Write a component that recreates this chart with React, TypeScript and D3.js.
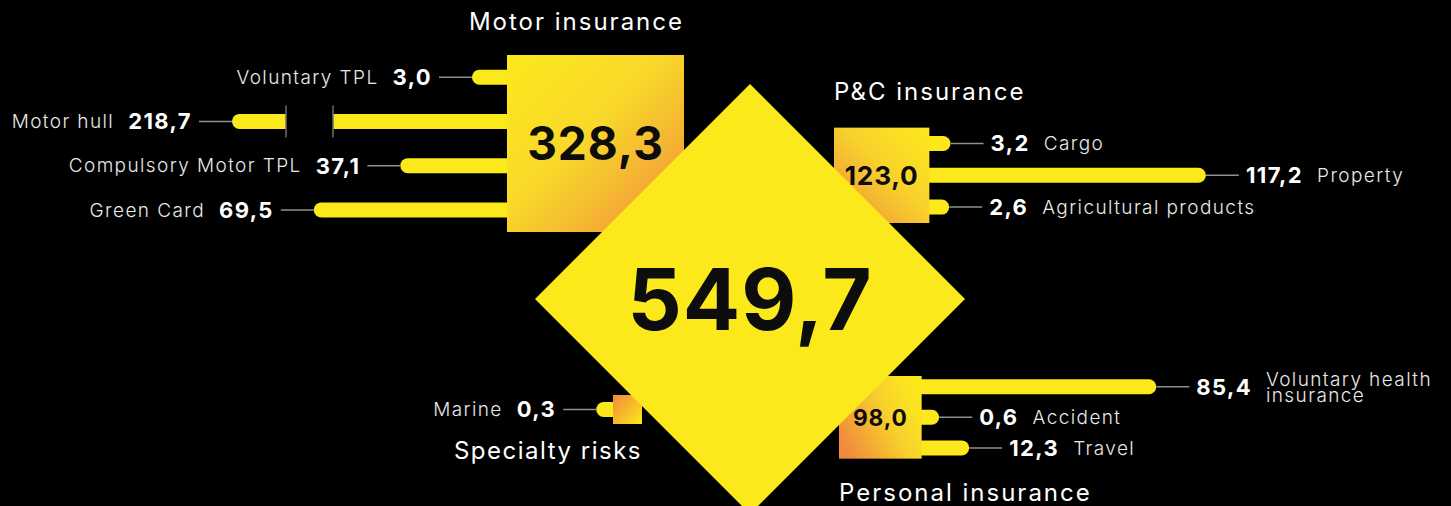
import React, { useEffect, useRef } from "react";
import * as d3 from "d3";

const W = 1451;
const H = 506;

// ---- data ----
const grandTotal = 549.7;
const groupNames = ["Motor insurance", "P&C insurance", "Specialty risks", "Personal insurance"];
const groupTotals = [328.3, 123.0, 0.3, 98.0];

const motorCategories = ["Voluntary TPL", "Motor hull", "Compulsory Motor TPL", "Green Card"];
const motorValues = [3.0, 218.7, 37.1, 69.5];

const pcCategories = ["Cargo", "Property", "Agricultural products"];
const pcValues = [3.2, 117.2, 2.6];

const specialtyCategories = ["Marine"];
const specialtyValues = [0.3];

const personalCategories = ["Voluntary health\ninsurance", "Accident", "Travel"];
const personalValues = [85.4, 0.6, 12.3];

// ---- style ----
const YELLOW = "#FCE91C";
const ORANGE = "#F08A3C";
const FONT = "Inter, 'Open Sans', 'DejaVu Sans', sans-serif";

const locale = d3.formatLocale({ decimal: ",", thousands: " ", grouping: [3], currency: ["", ""] });
const fmt = locale.format(".1f");

export default function App() {
  const ref = useRef<SVGSVGElement>(null);

  useEffect(() => {
    const svg = d3.select(ref.current);
    svg.selectAll("*").remove();

    svg.append("rect").attr("width", W).attr("height", H).attr("fill", "#000");

    const defs = svg.append("defs");
    const grad = (id: string, x1: number, y1: number, x2: number, y2: number, stops: [number, string][]) => {
      const g = defs.append("linearGradient").attr("id", id)
        .attr("x1", x1).attr("y1", y1).attr("x2", x2).attr("y2", y2);
      stops.forEach(([o, c]) => g.append("stop").attr("offset", o).attr("stop-color", c));
    };
    grad("gMotor", 0, 0, 1, 1, [[0, YELLOW], [0.45, "#F9D82A"], [1, ORANGE]]);
    grad("gPC", 0, 1, 1, 0, [[0, ORANGE], [0.55, "#F8D22C"], [1, YELLOW]]);
    grad("gSpec", 0, 0, 1, 1, [[0, ORANGE], [1, YELLOW]]);
    grad("gPers", 0, 0.75, 1, 0.25, [[0, ORANGE], [0.6, "#F8D22C"], [1, YELLOW]]);

    // diamond layout
    const cx = 750, cy = 299, r = 215;

    // box size scale
    const sizeScale = d3.scalePow().exponent(0.63).domain([0, d3.max(groupTotals)!]).range([0, 177]);
    const boxSize = (v: number) => Math.max(29, sizeScale(v));

    const motorLen = d3.scalePow().exponent(1.22).domain([0, 100]).range([31.5, 283.5]);
    const pcLen = d3.scaleLinear().domain([0, 100]).range([14, 238]);
    const persLen = d3.scaleLinear().domain([0, 100]).range([16, 272]);

    type Group = {
      name: string; total: number; cats: string[]; vals: number[];
      side: "left" | "right"; len: (v: number) => number; gradId: string;
      corner: [number, number]; anchorX: "left" | "right"; anchorY: "top" | "bottom";
      titleAnchor: "start" | "end"; titleDy: number; pad: number;
    };

    const groups: Group[] = [
      { name: groupNames[0], total: groupTotals[0], cats: motorCategories, vals: motorValues, side: "left", len: motorLen, gradId: "gMotor",
        corner: [cx - 66, cy - 67], anchorX: "right", anchorY: "bottom", titleAnchor: "end", titleDy: -25, pad: 0.5 },
      { name: groupNames[1], total: groupTotals[1], cats: pcCategories, vals: pcValues, side: "right", len: pcLen, gradId: "gPC",
        corner: [cx + 84, cy - 76], anchorX: "left", anchorY: "bottom", titleAnchor: "start", titleDy: -28, pad: 0.5 },
      { name: groupNames[2], total: groupTotals[2], cats: specialtyCategories, vals: specialtyValues, side: "left", len: persLen, gradId: "gSpec",
        corner: [cx - 108, cy + 96], anchorX: "right", anchorY: "top", titleAnchor: "end", titleDy: 35, pad: 0.5 },
      { name: groupNames[3], total: groupTotals[3], cats: personalCategories, vals: personalValues, side: "right", len: persLen, gradId: "gPers",
        corner: [cx + 89, cy + 77], anchorX: "left", anchorY: "top", titleAnchor: "start", titleDy: 42, pad: 0.35 },
    ];

    const BREAK_AT = 320;   // bars longer than this are drawn broken
    const BROKEN_LEN = 275;
    const BAR_H = 15;
    const LEADER = 33;

    const barLayer = svg.append("g");
    const boxLayer = svg.append("g");
    const diamondLayer = svg.append("g");
    const textLayer = svg.append("g");

    groups.forEach((g) => {
      const s = boxSize(g.total);
      const bx = g.anchorX === "right" ? g.corner[0] - s : g.corner[0];
      const by = g.anchorY === "bottom" ? g.corner[1] - s : g.corner[1];
      const dir = g.side === "left" ? -1 : 1;
      const edge = g.side === "left" ? bx : bx + s;

      const yPos = d3.scalePoint<string>().domain(g.cats).range([by, by + s]).padding(g.pad);

      g.cats.forEach((cat, i) => {
        const v = g.vals[i];
        const y = yPos(cat)!;
        let L = g.len(v);
        let broken = false;
        if (L > BREAK_AT) { L = BROKEN_LEN; broken = true; }
        const tip = edge + dir * L;
        const x0 = Math.min(tip, edge - dir * 10);
        const x1 = Math.max(tip, edge - dir * 10);
        barLayer.append("rect")
          .attr("x", x0).attr("y", y - BAR_H / 2)
          .attr("width", x1 - x0).attr("height", BAR_H)
          .attr("rx", BAR_H / 2).attr("fill", YELLOW);
        if (broken) {
          const ga = edge + dir * 174, gb = edge + dir * 221;
          barLayer.append("rect")
            .attr("x", Math.min(ga, gb)).attr("y", y - BAR_H / 2 - 1)
            .attr("width", Math.abs(gb - ga)).attr("height", BAR_H + 2).attr("fill", "#000");
          [ga, gb].forEach((gx) =>
            barLayer.append("line").attr("x1", gx).attr("x2", gx)
              .attr("y1", y - 16).attr("y2", y + 16)
              .attr("stroke", "#6e6e6e").attr("stroke-width", 1.5));
        }
        // leader
        barLayer.append("line")
          .attr("x1", tip).attr("x2", tip + dir * LEADER)
          .attr("y1", y).attr("y2", y)
          .attr("stroke", "#8f8f8f").attr("stroke-width", 1.5);
        // value
        const vx = tip + dir * (LEADER + 7);
        const vt = textLayer.append("text")
          .attr("x", vx).attr("y", y).attr("dy", "0.36em")
          .attr("text-anchor", dir < 0 ? "end" : "start")
          .attr("font-family", FONT).attr("font-weight", 700).attr("font-size", 22)
          .attr("letter-spacing", 1.4)
          .attr("fill", "#fff").text(fmt(v));
        const w = (vt.node() as SVGTextElement).getComputedTextLength();
        const lx = vx + dir * (w + 14);
        const lines = cat.split("\n");
        const ct = textLayer.append("text")
          .attr("x", lx).attr("y", y)
          .attr("text-anchor", dir < 0 ? "end" : "start")
          .attr("font-family", FONT).attr("font-weight", 300).attr("font-size", 19)
          .attr("letter-spacing", 1.4)
          .attr("fill", "#e8e8e8");
        lines.forEach((ln, k) => {
          ct.append("tspan").attr("x", lx)
            .attr("y", y + (k - (lines.length - 1) / 2) * 16)
            .attr("dy", "0.36em").text(ln);
        });
      });

      boxLayer.append("rect")
        .attr("x", bx).attr("y", by).attr("width", s).attr("height", s)
        .attr("fill", `url(#${g.gradId})`);

      if (s > 40) {
        const big = s > 150;
        textLayer.append("text")
          .attr("x", bx + s / 2).attr("y", by + s / 2).attr("dy", "0.36em")
          .attr("text-anchor", "middle")
          .attr("font-family", FONT)
          .attr("font-weight", 700).attr("font-size", big ? s * 0.26 : s * 0.275)
          .attr("letter-spacing", big ? 1 : 0.8)
          .attr("fill", "#0d0d0d").text(fmt(g.total));
      }

      const tx = g.titleAnchor === "end" ? bx + s : bx;
      const ty = g.titleDy < 0 ? by + g.titleDy : by + s + g.titleDy;
      textLayer.append("text")
        .attr("x", tx).attr("y", ty)
        .attr("text-anchor", g.titleAnchor)
        .attr("font-family", FONT).attr("font-weight", 400).attr("font-size", 24)
        .attr("letter-spacing", g.total < 1 ? 1.5 : 2)
        .attr("fill", "#fff").text(g.name);
    });

    // central diamond
    diamondLayer.append("polygon")
      .attr("points", [[cx, cy - r], [cx + r, cy], [cx, cy + r], [cx - r, cy]].map((p) => p.join(",")).join(" "))
      .attr("fill", YELLOW);
    diamondLayer.append("text")
      .attr("x", cx).attr("y", cy).attr("dy", "0.36em")
      .attr("text-anchor", "middle")
      .attr("font-family", FONT).attr("font-weight", 700).attr("font-size", 85)
      .attr("letter-spacing", 1)
      .attr("fill", "#0d0d0d").text(fmt(grandTotal));
  }, []);

  return (
    <svg
      ref={ref}
      width={W}
      height={H}
      style={{ position: "absolute", left: 0, top: 0, display: "block", background: "#000" }}
    />
  );
}
